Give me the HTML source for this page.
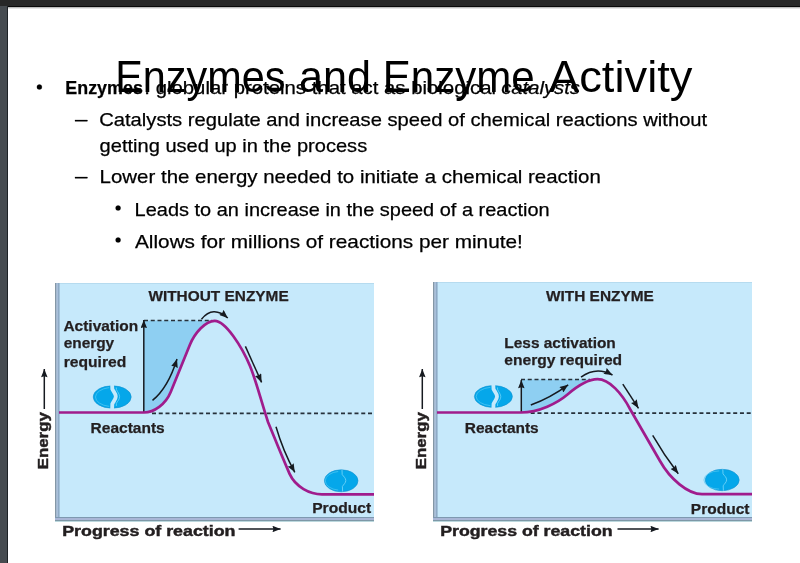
<!DOCTYPE html>
<html><head><meta charset="utf-8"><title>Enzymes and Enzyme Activity</title>
<style>
html,body{margin:0;padding:0;background:#fff;width:800px;height:563px;overflow:hidden}
svg{display:block;will-change:transform}
.t{font-family:"Liberation Sans",sans-serif;fill:#000}
.b{stroke:#000;stroke-width:0.25}
.d{font-family:"Liberation Sans",sans-serif;font-weight:bold;font-size:15px;fill:#231f20;stroke:#231f20;stroke-width:0.25}
.h{font-family:"Liberation Sans",sans-serif;font-weight:bold;font-size:15px;fill:#231f20;stroke:#231f20;stroke-width:0.45}
.ar{fill:none;stroke:#161a20;stroke-width:1.5}
.ds{stroke:#26303a;stroke-width:1.7;stroke-dasharray:4,2.75}
.cv{fill:none;stroke:#a01c8c;stroke-width:2.7}
</style></head>
<body>
<svg width="800" height="563" viewBox="0 0 800 563">
<defs>
<linearGradient id="sh" x1="0" y1="0" x2="0" y2="1">
<stop offset="0" stop-color="#a8a8a8"/><stop offset="1" stop-color="#f8f8f8"/>
</linearGradient>
<marker id="ah" viewBox="0 0 10 8" refX="10" refY="4" markerWidth="9" markerHeight="6.8" markerUnits="userSpaceOnUse" orient="auto">
<path d="M0,0 L10,4 L0,8 L1.2,4 Z" fill="#161a20"/>
</marker>
<marker id="ah2" viewBox="0 0 10 8" refX="10" refY="4" markerWidth="9.5" markerHeight="6.5" markerUnits="userSpaceOnUse" orient="auto">
<path d="M0,0 L10,4 L0,8 L1.2,4 Z" fill="#161a20"/>
</marker>
</defs>
<!-- window chrome -->
<rect x="0" y="0" width="800" height="563" fill="#ffffff"/>
<rect x="0" y="0" width="800" height="6" fill="#272727"/>
<rect x="0" y="6" width="800" height="1" fill="#080808"/>
<rect x="8" y="7" width="792" height="2" fill="url(#sh)"/>
<rect x="0" y="6" width="7" height="557" fill="#464b50"/>
<rect x="7" y="6" width="1" height="557" fill="#1e2226"/>

<!-- body text -->
<g class="t b" font-size="19">
<circle cx="39.4" cy="87" r="2.5" fill="#000"/>
<text x="65.31" y="94.4" font-weight="bold" textLength="77.54" lengthAdjust="spacingAndGlyphs">Enzymes</text>
<text x="144.36" y="94.4" textLength="351.63" lengthAdjust="spacingAndGlyphs">: globular proteins that act as biological</text>
<text x="501.23" y="94.4" font-style="italic" textLength="78.75" lengthAdjust="spacingAndGlyphs">catalysts</text>
<rect x="75" y="120" width="12.5" height="1.3" fill="#000"/>
<text x="99.2" y="126.3" textLength="608" lengthAdjust="spacingAndGlyphs">Catalysts regulate and increase speed of chemical reactions without</text>
<text x="99.6" y="152" textLength="267.6" lengthAdjust="spacingAndGlyphs">getting used up in the process</text>
<rect x="75" y="177" width="12.5" height="1.3" fill="#000"/>
<text x="99.6" y="183" textLength="501.2" lengthAdjust="spacingAndGlyphs">Lower the energy needed to initiate a chemical reaction</text>
<circle cx="118.1" cy="208" r="2.5" fill="#000"/>
<text x="134.6" y="215.6" textLength="415" lengthAdjust="spacingAndGlyphs">Leads to an increase in the speed of a reaction</text>
<circle cx="118.1" cy="240" r="2.5" fill="#000"/>
<text x="135" y="247.7" textLength="387.8" lengthAdjust="spacingAndGlyphs">Allows for millions of reactions per minute!</text>
</g>
<!-- title -->
<g class="t" font-size="44.5">
<text x="115.28" y="91.5" textLength="170.08" lengthAdjust="spacingAndGlyphs">Enzymes</text>
<text x="299.06" y="91.5" textLength="72.1" lengthAdjust="spacingAndGlyphs">and</text>
<text x="382.72" y="91.5" textLength="151.93" lengthAdjust="spacingAndGlyphs">Enzyme</text>
<text x="549" y="91.5" textLength="143.44" lengthAdjust="spacingAndGlyphs">Activity</text>
</g>

<!-- ================= LEFT PANEL ================= -->
<rect x="55" y="283" width="319" height="238" fill="#c6e9fb"/>
<rect x="55" y="283" width="319" height="1" fill="#b6dbef"/>
<rect x="55" y="283" width="1.6" height="234" fill="#8497a6"/>
<rect x="56.6" y="283" width="1" height="234" fill="#b3bddb"/>
<rect x="57.6" y="283" width="2" height="234" fill="#8fabc6"/>
<rect x="55" y="517" width="319" height="1" fill="#7e99b0"/>
<rect x="55" y="518" width="319" height="2" fill="#a9b6d6"/>
<rect x="55" y="520" width="319" height="1" fill="#7d98a6"/>
<rect x="55" y="521" width="319" height="1" fill="#bcd8de"/>
<!-- shaded activation area -->
<path d="M144,320.5 L214.7,320.5 L214.7,320.8 C205.7,320.8 194.8,332.7 189.8,345 L170.7,392 C165.7,404.3 154,412.5 144,412.5 Z" fill="#8ecff2"/>
<line class="ds" x1="144" y1="320.5" x2="212" y2="320.5"/>
<line class="ds" x1="152" y1="413.3" x2="374" y2="413.3"/>
<line class="ar" x1="143.8" y1="412.5" x2="143.8" y2="320" marker-end="url(#ah2)"/>
<path class="cv" d="M59,412.5 L144,412.5 C154,412.5 165.7,404.3 170.7,392 L189.8,345 C194.8,332.7 205.7,320.8 214.7,320.8 C225.5,320.8 242,346.8 250,366 C256,380.4 262,404 268,422 L275,439 C279,449 283,458.5 289.6,473.9 C295.6,487.1 310,494.3 322,494.3 L374,494.3"/>
<path class="ar" d="M152.5,400.4 Q168,388 177,359" marker-end="url(#ah)"/>
<path class="ar" d="M201.5,319.2 Q213,305 227.8,318" marker-end="url(#ah)"/>
<path class="ar" d="M245.4,346.4 L261.6,382.4" marker-end="url(#ah)"/>
<path class="ar" d="M276,426.8 Q283,451 294.8,472.3" marker-end="url(#ah)"/>
<text class="d" x="148.4" y="300.6" textLength="140.27" lengthAdjust="spacingAndGlyphs">WITHOUT ENZYME</text>
<text class="d" x="63.47" y="330.6" textLength="74.66" lengthAdjust="spacingAndGlyphs">Activation</text>
<text class="d" x="63.67" y="348.2" textLength="50.54" lengthAdjust="spacingAndGlyphs">energy</text>
<text class="d" x="63.66" y="366.7" textLength="62.6" lengthAdjust="spacingAndGlyphs">required</text>
<text class="d" x="90.57" y="433" textLength="74.16" lengthAdjust="spacingAndGlyphs">Reactants</text>
<text class="d" x="312.19" y="513" textLength="59" lengthAdjust="spacingAndGlyphs">Product</text>
<!-- molecules -->
<g>
<ellipse cx="112.2" cy="397" rx="19" ry="11.2" fill="#05a7ea" stroke="#1592d0" stroke-width="0.6"/>
<path d="M109.2,387.6 A17.2,9.6 0 0 0 109.2,406.4" fill="none" stroke="#55c9f3" stroke-width="0.7"/>
<path d="M112.1,384 L112.3,389 C113.3,391.5 115.8,393.5 115.8,396.5 C115.8,399.5 113.3,401.5 112.3,404 L112.1,410" fill="none" stroke="#c6e9fb" stroke-width="3.8"/>
<path d="M116.3,387.5 L116.4,389.5 C117.4,392 119.6,394 119.6,396.7 C119.6,399.5 117.4,401.3 116.4,403.3 L116.3,406" fill="none" stroke="#6fd3f7" stroke-width="0.8"/>
</g>
<g>
<ellipse cx="341.2" cy="480.8" rx="16.8" ry="11" fill="#05a7ea" stroke="#1592d0" stroke-width="0.6"/>
<path d="M338.2,471.5 A15.1,9.4 0 0 0 338.2,490.1" fill="none" stroke="#55c9f3" stroke-width="0.7"/>
<path d="M342,470 L342.2,474.5 C343.5,476.5 345.8,478 345.8,480.5 C345.8,483 343.5,484.5 342.4,486.5 L342.6,491.5" fill="none" stroke="#6fd3f7" stroke-width="0.9"/>
</g>
<!-- axis labels -->
<text class="h" transform="translate(48,469.3) rotate(-90)" x="0" y="0" textLength="57.17" lengthAdjust="spacingAndGlyphs">Energy</text>
<line class="ar" x1="44.3" y1="409" x2="44.3" y2="369" marker-end="url(#ah2)"/>
<text class="h" x="62.21" y="536" textLength="173.25" lengthAdjust="spacingAndGlyphs">Progress of reaction</text>
<line class="ar" x1="238.6" y1="529" x2="280.6" y2="529" marker-end="url(#ah2)"/>

<!-- ================= RIGHT PANEL ================= -->
<rect x="433" y="282" width="319" height="239" fill="#c6e9fb"/>
<rect x="433" y="282" width="319" height="1" fill="#b6dbef"/>
<rect x="433" y="282" width="1.6" height="235" fill="#8497a6"/>
<rect x="434.6" y="282" width="1" height="235" fill="#b3bddb"/>
<rect x="435.6" y="282" width="2" height="235" fill="#8fabc6"/>
<rect x="433" y="517" width="319" height="1" fill="#7e99b0"/>
<rect x="433" y="518" width="319" height="2" fill="#a9b6d6"/>
<rect x="433" y="520" width="319" height="1" fill="#7d98a6"/>
<rect x="433" y="521" width="319" height="1" fill="#bcd8de"/>
<path d="M521,379.5 L597.5,379.5 L597.5,379.2 C587.5,379.2 577.5,386 567.5,394.5 C557.5,403 539,412.5 521,412.5 Z" fill="#8ecff2"/>
<line class="ds" x1="521" y1="379.5" x2="590" y2="379.5"/>
<line class="ds" x1="530.7" y1="413.2" x2="752" y2="413.2"/>
<line class="ar" x1="521.3" y1="412" x2="521.3" y2="380" marker-end="url(#ah2)"/>
<path class="cv" d="M437,412.5 L521,412.5 C539,412.5 557.5,403 567.5,394.5 C577.5,386 587.5,379.2 597.5,379.2 C609.5,379.2 622,393.8 630,409 L660,461 C670,479 688,494.2 702,494.2 L752,494.2"/>
<path class="ar" d="M530.8,405 Q550,398 568.2,384.8" marker-end="url(#ah)"/>
<path class="ar" d="M581,377.2 Q596,366 612.5,375" marker-end="url(#ah)"/>
<path class="ar" d="M622.8,384.2 L638.5,408.3" marker-end="url(#ah)"/>
<path class="ar" d="M652.7,435.3 Q664,455 678.3,473.7" marker-end="url(#ah)"/>
<text class="d" x="546" y="300.7" textLength="107.8" lengthAdjust="spacingAndGlyphs">WITH ENZYME</text>
<text class="d" x="504.37" y="347.8" textLength="111.43" lengthAdjust="spacingAndGlyphs">Less activation</text>
<text class="d" x="504.36" y="364.6" textLength="117.77" lengthAdjust="spacingAndGlyphs">energy required</text>
<text class="d" x="464.77" y="433" textLength="73.96" lengthAdjust="spacingAndGlyphs">Reactants</text>
<text class="d" x="690.89" y="513.5" textLength="58.6" lengthAdjust="spacingAndGlyphs">Product</text>
<g>
<ellipse cx="493.4" cy="396.5" rx="19" ry="10.9" fill="#05a7ea" stroke="#1592d0" stroke-width="0.6"/>
<path d="M490.4,387.34 A17.2,9.3 0 0 0 490.4,405.66" fill="none" stroke="#55c9f3" stroke-width="0.7"/>
<path d="M493.3,384 L493.5,389 C494.5,391.5 497,393.5 497,396.5 C497,399.5 494.5,401.5 493.5,404 L493.3,410" fill="none" stroke="#c6e9fb" stroke-width="3.8"/>
<path d="M497.5,387.5 L497.6,389.5 C498.6,392 500.8,394 500.8,396.7 C500.8,399.5 498.6,401.3 497.6,403.3 L497.5,406" fill="none" stroke="#6fd3f7" stroke-width="0.8"/>
</g>
<g>
<ellipse cx="722.2" cy="480" rx="17" ry="10.7" fill="#05a7ea" stroke="#1592d0" stroke-width="0.6"/>
<path d="M719.2,470.9 A15.3,9.1 0 0 0 719.2,489.1" fill="none" stroke="#55c9f3" stroke-width="0.7"/>
<path d="M722.8,469.3 L723,473.8 C724.3,475.8 726.6,477.3 726.6,479.8 C726.6,482.3 724.3,483.8 723.2,485.8 L723.4,490.7" fill="none" stroke="#6fd3f7" stroke-width="0.9"/>
</g>
<text class="h" transform="translate(426,469.3) rotate(-90)" x="0" y="0" textLength="57.17" lengthAdjust="spacingAndGlyphs">Energy</text>
<line class="ar" x1="422.3" y1="409" x2="422.3" y2="369" marker-end="url(#ah2)"/>
<text class="h" x="440.22" y="535.8" textLength="172.33" lengthAdjust="spacingAndGlyphs">Progress of reaction</text>
<line class="ar" x1="617.5" y1="529" x2="658.6" y2="529" marker-end="url(#ah2)"/>
</svg>
</body></html>
